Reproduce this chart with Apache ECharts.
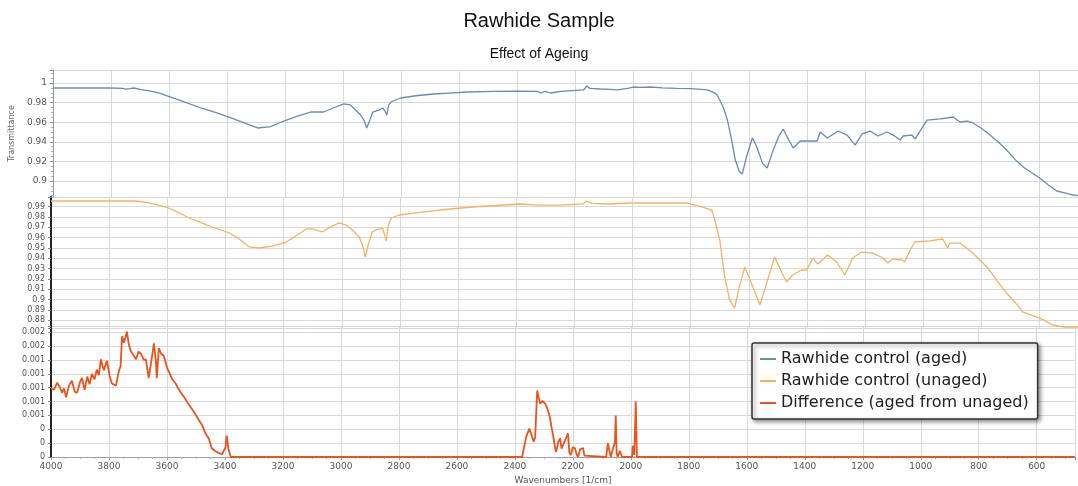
<!DOCTYPE html>
<html>
<head>
<meta charset="utf-8">
<script src="https://cdn.jsdelivr.net/npm/echarts@6/dist/echarts.min.js"></script>
<style>
html,body{margin:0;padding:0;background:#fff;}
#chart{width:1078px;height:486px;}
</style>
</head>
<body>
<div id="chart"></div>
<script>
// ---------- DATA ----------
const seriesNames = ['Rawhide control (aged)', 'Rawhide control (unaged)', 'Difference (aged from unaged)'];

const agedWn = [4000,3900,3800,3760,3750,3735,3721,3700,3663,3630,3604,3550,3490,3430,3377,3330,3294,3250,3205,3160,3112,3067,3030,2998,2975,2964,2940,2928,2919,2908,2898,2875,2864,2855,2850,2843,2836,2802,2750,2688,2620,2572,2480,2400,2330,2320,2305,2286,2250,2172,2160,2150,2114,2080,2055,2020,2000,1976,1941,1900,1850,1800,1745,1720,1711,1690,1676,1660,1649,1635,1625,1610,1590,1575,1555,1539,1520,1500,1484,1465,1449,1425,1395,1367,1356,1332,1294,1264,1250,1236,1212,1184,1157,1126,1100,1081,1071,1041,1029,1010,988,943,920,898,874,850,830,800,771,740,714,685,657,630,600,570,541,510,485,468];
const agedT = [0.9949,0.9949,0.9949,0.9945,0.9937,0.9942,0.9949,0.9935,0.9918,0.9895,0.9867,0.981,0.9745,0.969,0.9633,0.958,0.9541,0.9555,0.9612,0.966,0.9704,0.9704,0.975,0.9786,0.9776,0.9745,0.9673,0.962,0.9541,0.962,0.9704,0.9725,0.9745,0.971,0.9673,0.9775,0.9806,0.9847,0.987,0.9888,0.99,0.9908,0.9915,0.9918,0.9915,0.9898,0.9915,0.9898,0.9915,0.9929,0.9969,0.9945,0.9939,0.9935,0.9929,0.9945,0.9959,0.9955,0.9959,0.995,0.9945,0.9943,0.9929,0.99,0.9878,0.975,0.9622,0.94,0.9214,0.91,0.9071,0.925,0.9439,0.935,0.918,0.9133,0.93,0.945,0.9531,0.942,0.9337,0.9408,0.9408,0.9408,0.95,0.9439,0.951,0.9469,0.942,0.9367,0.948,0.951,0.9459,0.95,0.946,0.9418,0.9459,0.9469,0.9429,0.952,0.9622,0.9633,0.9643,0.9653,0.9602,0.961,0.9592,0.9535,0.9469,0.939,0.9316,0.922,0.9143,0.909,0.9031,0.896,0.8898,0.8877,0.8857,0.885];

const unagedWn = [4000,3900,3800,3707,3663,3604,3560,3525,3480,3446,3387,3353,3318,3284,3239,3191,3150,3122,3100,3067,3040,3009,2985,2964,2940,2928,2919,2910,2895,2875,2860,2853,2847,2840,2830,2802,2740,2664,2551,2389,2320,2250,2170,2158,2140,2090,2010,1900,1814,1759,1728,1715,1700,1683,1666,1649,1635,1614,1590,1562,1540,1511,1490,1470,1449,1420,1401,1380,1363,1329,1298,1270,1243,1212,1174,1140,1122,1105,1074,1064,1045,1029,978,933,916,909,874,830,781,745,714,680,657,600,554,519,468];
const unagedT = [0.9953,0.9953,0.9953,0.9953,0.9934,0.9895,0.984,0.9789,0.974,0.9702,0.9644,0.9586,0.9509,0.9499,0.9518,0.9557,0.963,0.9683,0.9683,0.9654,0.97,0.9741,0.972,0.9673,0.9605,0.952,0.9412,0.952,0.9654,0.968,0.9692,0.963,0.9567,0.972,0.9789,0.9818,0.984,0.9866,0.9895,0.9924,0.9914,0.9914,0.9925,0.9953,0.993,0.9924,0.9934,0.9934,0.9934,0.9895,0.9866,0.975,0.9576,0.9219,0.8997,0.8919,0.91,0.9315,0.915,0.8948,0.915,0.9412,0.928,0.917,0.9238,0.9286,0.9286,0.9402,0.9344,0.9431,0.9364,0.9238,0.9402,0.946,0.945,0.9405,0.9354,0.9393,0.9383,0.9364,0.948,0.9557,0.9567,0.9586,0.9499,0.9547,0.9547,0.945,0.9315,0.918,0.9064,0.896,0.888,0.8822,0.8755,0.8736,0.8736];

const diffWn = [4000,3990,3979,3970,3962,3955,3948,3938,3928,3918,3910,3900,3893,3884,3875,3867,3859,3850,3842,3835,3828,3818,3807,3798,3790,3776,3766,3760,3755,3748,3738,3732,3725,3716,3707,3698,3690,3680,3673,3663,3655,3645,3638,3635,3628,3620,3611,3605,3600,3590,3583,3570,3560,3549,3540,3530,3515,3505,3490,3480,3467,3455,3446,3435,3422,3410,3404,3398,3394,3388,3380,2375,2361,2350,2344,2335,2330,2323,2318,2313,2305,2296,2288,2279,2274,2268,2262,2258,2250,2244,2239,2234,2225,2217,2212,2207,2200,2193,2187,2182,2175,2165,2160,2158,2085,2079,2072,2069,2062,2055,2052,2049,2045,2038,2035,2030,1996,1993,1988,1983,1979,468];
const diffV = [0.00099,0.00097,0.00107,0.00101,0.00093,0.00099,0.00086,0.00103,0.0011,0.00094,0.00093,0.00108,0.00114,0.00097,0.00116,0.00105,0.0012,0.00112,0.00126,0.00118,0.00141,0.00125,0.00139,0.00117,0.00106,0.00103,0.00124,0.00131,0.00174,0.00165,0.00181,0.00163,0.00153,0.00147,0.00141,0.00152,0.00149,0.0014,0.00141,0.00114,0.00135,0.00164,0.00137,0.00114,0.00157,0.00149,0.00146,0.00137,0.00129,0.0012,0.00113,0.00106,0.00098,0.00091,0.00086,0.00079,0.0007,0.00064,0.00053,0.00047,0.00034,0.00026,0.00013,0.00009,0.00006,0.00004,0.00002,0.00014,0.00031,0.00012,0,0,0.00029,0.00041,0.00039,0.00022,0.00029,0.00096,0.00086,0.00077,0.00081,0.00077,0.0007,0.00057,0.00044,0.00031,0.00015,0.00007,0.00022,0.00027,0.00012,0.00017,0.00026,0.00034,0.00006,0.00003,0.00014,0.00013,0.00004,0,0.00011,0.00013,0.00002,0,0,0.0002,0.00005,0,0.00012,0.00021,0.0006,0.00005,0,0.00009,0.0001,0,0,0.00016,0.00003,0.0008,0,0];

// ---------- CHART ----------
const chart = echarts.init(document.getElementById('chart'), null, {renderer: 'canvas'});
const zip = (a, b) => a.map((w, i) => [w, b[i]]);
const colors = ['#7088b8', '#f5b25e', '#e9531c'];
const FONT = 'DejaVu Sans';

function multipleFmt(step, digits) {
  return function (v) {
    const r = v / step;
    if (Math.abs(r - Math.round(r)) > 1e-4) return '';
    return String(parseFloat(v.toFixed(digits)));
  };
}

const gridDefs = [
  {left: 51, right: 0, top: 70, height: 127},
  {left: 51, right: 0, top: 197, height: 131},
  {left: 51, right: 0, top: 326, height: 132}
];

const xBase = {
  type: 'value', inverse: true, min: 468, max: 4000, splitNumber: 17,
  splitLine: {show: true, lineStyle: {color: '#d9d9d9', width: 1}},
  axisLine: {show: false}, axisTick: {show: false}, axisLabel: {show: false}
};

const xAxes = [
  Object.assign({gridIndex: 0}, xBase),
  Object.assign({gridIndex: 1}, xBase),
  Object.assign({}, xBase, {
    gridIndex: 2,
    axisLine: {show: true, onZero: false, lineStyle: {color: '#a0a0a0', width: 1}},
    axisTick: {show: true, length: 3, lineStyle: {color: '#a0a0a0'}},
    minorTick: {show: true, splitNumber: 4, length: 2, lineStyle: {color: '#b0b0b0'}},
    axisLabel: {show: true, fontSize: 9, color: '#555', fontFamily: FONT, margin: 5,
      formatter: multipleFmt(200, 0)},
    name: 'Wavenumbers [1/cm]', nameLocation: 'middle', nameGap: 19,
    nameTextStyle: {fontSize: 9, color: '#555', fontFamily: FONT}
  })
];

const yCommon = {
  type: 'value',
  splitLine: {show: true, lineStyle: {color: '#d9d9d9', width: 1}},
  axisTick: {show: true, length: 3, lineStyle: {color: '#888'}},
  minorTick: {show: true, splitNumber: 4, length: 2, lineStyle: {color: '#aaa'}}
};

const yAxes = [
  Object.assign({}, yCommon, {
    gridIndex: 0, min: 0.88367, max: 1.01327, splitNumber: 6,
    axisLine: {show: true, lineStyle: {color: '#999', width: 1}},
    axisLabel: {fontSize: 9, color: '#555', fontFamily: FONT, margin: 6, formatter: multipleFmt(0.02, 2)},
    name: 'Transmittance', nameLocation: 'middle', nameGap: 34, nameRotate: 90,
    nameTextStyle: {fontSize: 8, color: '#666', fontFamily: FONT}
  }),
  Object.assign({}, yCommon, {
    gridIndex: 1, min: 0.87261, max: 0.99918, splitNumber: 12,
    minorTick: {show: false},
    axisLine: {show: true, lineStyle: {color: '#222', width: 2}},
    axisLabel: {fontSize: 8, color: '#555', fontFamily: FONT, margin: 6, formatter: multipleFmt(0.01, 2)}
  }),
  Object.assign({}, yCommon, {
    gridIndex: 2, min: 0, max: 0.00189, splitNumber: 10,
    minorTick: {show: false},
    axisLine: {show: true, lineStyle: {color: '#222', width: 2}},
    axisLabel: {fontSize: 8, color: '#555', fontFamily: FONT, margin: 6, formatter: multipleFmt(0.0002, 3)}
  })
];

const option = {
  animation: false,
  backgroundColor: '#ffffff',
  color: colors,
  title: {
    text: 'Rawhide Sample', subtext: 'Effect of Ageing', left: 'center', top: 6, itemGap: 16,
    textStyle: {fontSize: 20, fontWeight: 'normal', color: '#111', fontFamily: 'Liberation Sans'},
    subtextStyle: {fontSize: 14, color: '#111', fontFamily: 'Liberation Sans'}
  },
  legend: {
    orient: 'vertical', left: 752, top: 343,
    data: seriesNames,
    icon: 'rect', itemWidth: 16, itemHeight: 2, itemGap: 6,
    padding: [8, 9, 8, 8],
    backgroundColor: '#ffffff', borderColor: '#333', borderWidth: 1.5, borderRadius: 2,
    shadowBlur: 4, shadowColor: 'rgba(0,0,0,0.45)', shadowOffsetX: 2, shadowOffsetY: 2,
    textStyle: {fontSize: 16, color: '#222', fontFamily: FONT}
  },
  grid: gridDefs,
  xAxis: xAxes,
  yAxis: yAxes,
  series: [
    {name: seriesNames[0], type: 'line', xAxisIndex: 0, yAxisIndex: 0, showSymbol: false, symbol: 'none',
     data: zip(agedWn, agedT), lineStyle: {width: 1.3, color: colors[0]}, itemStyle: {color: colors[0]}},
    {name: seriesNames[1], type: 'line', xAxisIndex: 1, yAxisIndex: 1, showSymbol: false, symbol: 'none',
     data: zip(unagedWn, unagedT), lineStyle: {width: 1.3, color: colors[1]}, itemStyle: {color: colors[1]}},
    {name: seriesNames[2], type: 'line', xAxisIndex: 2, yAxisIndex: 2, showSymbol: false, symbol: 'none',
     data: zip(diffWn, diffV), lineStyle: {width: 1.8, color: colors[2]}, itemStyle: {color: colors[2]}}
  ]
};
chart.setOption(option);
</script>
</body>
</html>
